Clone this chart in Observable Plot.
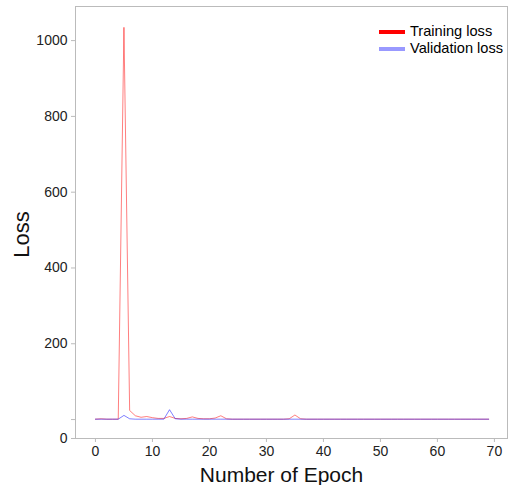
<!DOCTYPE html>
<html>
<head>
<meta charset="utf-8">
<script src="https://cdn.jsdelivr.net/npm/d3@7"></script>
<script src="https://cdn.jsdelivr.net/npm/@observablehq/plot@0.6"></script>
<style>
  html, body { margin: 0; padding: 0; background: #fff; }
  #wrap { position: relative; width: 510px; height: 485px; font-family: "Liberation Sans", Arial, sans-serif; }
  #legend { position: absolute; left: 379px; top: 23px; font-size: 14.6px; color: #000; line-height: 17px; }
  #legend .row { display: flex; align-items: center; }
  #legend .sw { width: 26px; height: 4px; margin-right: 5px; }
</style>
</head>
<body>
<div id="wrap"></div>
<script>
const epochs = d3.range(0, 70);
const trainingLoss = [
  1, 2, 1, 1, 1, 1035, 24, 10, 6, 8,
  5, 3, 3, 8, 3, 2, 3, 7, 3, 2,
  2, 4, 10, 2, 1, 1, 1, 1, 1, 1,
  1, 1, 1, 1, 2, 12, 2, 1, 1, 1,
  1, 1, 1, 1, 1, 1, 1, 1, 1, 1,
  1, 1, 1, 1, 1, 1, 1, 1, 1, 1,
  1, 1, 1, 1, 1, 1, 1, 1, 1, 1
];
const validationLoss = [
  1, 1, 1, 1, 1, 11, 2, 1, 1, 1,
  1, 1, 1, 26, 2, 1, 1, 1, 1, 1,
  1, 1, 1, 1, 1, 1, 1, 1, 1, 1,
  1, 1, 1, 1, 1, 1, 1, 1, 1, 1,
  1, 1, 1, 1, 1, 1, 1, 1, 1, 1,
  1, 1, 1, 1, 1, 1, 1, 1, 1, 1,
  1, 1, 1, 1, 1, 1, 1, 1, 1, 1
];
const xTicks = [0, 10, 20, 30, 40, 50, 60, 70];
const yTicks = [-50, 0, 200, 400, 600, 800, 1000];
const yTickLabels = ["0", "", "200", "400", "600", "800", "1000"];
const seriesNames = ["Training loss", "Validation loss"];

const rows = [];
epochs.forEach((e, i) => {
  rows.push({epoch: e, loss: trainingLoss[i], series: seriesNames[0]});
});
epochs.forEach((e, i) => {
  rows.push({epoch: e, loss: validationLoss[i], series: seriesNames[1]});
});

const chart = Plot.plot({
  width: 510,
  height: 485,
  marginLeft: 75,
  marginRight: 3,
  marginTop: 6,
  marginBottom: 47,
  style: {fontFamily: "Liberation Sans, Arial, sans-serif", fontSize: "14px", color: "#222", background: "#fff"},
  x: {domain: [-3.5, 72.3]},
  y: {domain: [-50, 1090]},
  color: {domain: seriesNames, range: ["rgba(255,0,0,0.5)", "rgba(0,0,255,0.5)"]},
  marks: [
    Plot.frame({stroke: "#bbb", strokeOpacity: 1}),
    Plot.axisX({ticks: xTicks, tickSize: 4, tickPadding: 4, stroke: "#bbb", fontSize: 14, fill: "#222",
      label: "Number of Epoch", labelAnchor: "center", labelArrow: "none", labelOffset: 43}),
    Plot.axisY({ticks: yTicks, tickSize: 4, tickPadding: 4, stroke: "#bbb", fontSize: 14, fill: "#222",
      tickFormat: (d) => yTickLabels[yTicks.indexOf(d)],
      label: "Loss", labelAnchor: "center", labelArrow: "none", labelOffset: 62}),
    Plot.line(rows, {x: "epoch", y: "loss", z: "series", stroke: "series", strokeWidth: 1})
  ]
});

// enlarge and shift axis labels (prepend a translate to each label's own transform)
function shiftLabel(sel, dx, dy, size) {
  d3.select(chart).selectAll(sel).each(function() {
    const t = d3.select(this);
    const prev = t.attr("transform") || "";
    t.attr("transform", `translate(${dx},${dy}) ${prev}`)
      .style("font-size", size).attr("fill", "#111");
  });
}
shiftLabel("g[aria-label='x-axis label'] text", -10, 0, "21px");
shiftLabel("g[aria-label='y-axis label'] text", 0, 12, "22px");

const wrap = document.getElementById("wrap");
wrap.appendChild(chart);

const legend = document.createElement("div");
legend.id = "legend";
const legendColors = ["#ff0000", "#9999ff"];
seriesNames.forEach((name, i) => {
  const row = document.createElement("div");
  row.className = "row";
  const sw = document.createElement("span");
  sw.className = "sw";
  sw.style.background = legendColors[i];
  const t = document.createElement("span");
  t.textContent = name;
  row.appendChild(sw);
  row.appendChild(t);
  legend.appendChild(row);
});
wrap.appendChild(legend);
</script>
</body>
</html>
